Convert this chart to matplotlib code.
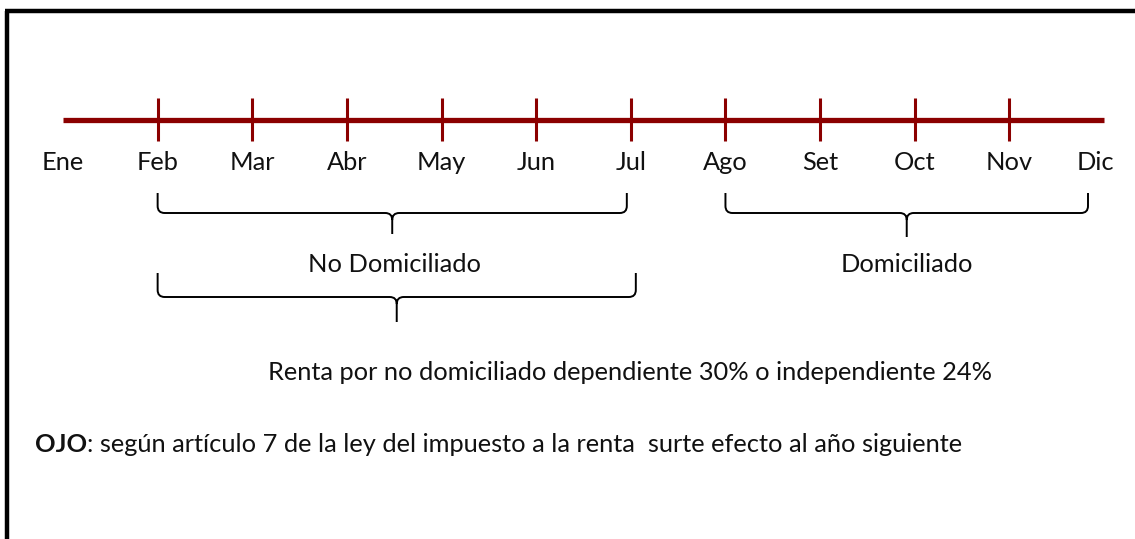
import matplotlib.pyplot as plt
from matplotlib.path import Path
from matplotlib.patches import PathPatch

months = ["Ene", "Feb", "Mar", "Abr", "May", "Jun", "Jul",
          "Ago", "Set", "Oct", "Nov", "Dic"]
no_dom_span = (1, 6)      # Feb .. Jul
dom_span = (7, 11)        # Ago .. Dic
renta_span = (1, 6)       # Feb .. Jul (lower brace)
label_no_dom = "No Domiciliado"
label_dom = "Domiciliado"
label_renta = "Renta por no domiciliado dependiente 30% o independiente 24%"
note_bold = "OJO"
note_rest = ": según artículo 7 de la ley del impuesto a la renta  surte efecto al año siguiente"

plt.rcParams['font.family'] = ['Lato', 'DejaVu Sans']
FS = 18.3
TXT = '#111111'

W, H = 1135, 539
fig = plt.figure(figsize=(W / 100, H / 100), dpi=100)
ax = fig.add_axes([0, 0, 1, 1])
step = (1104 - 63) / 11          # pixels per month
ax.set_xlim(-63 / step, (W - 63) / step)
ax.set_ylim(H, 0)
ax.axis('off')

red = '#8b0000'
px = 1 / step  # one pixel in x data units
x_of = lambda p: (p - 63) / step   # pixel column -> month units

# frame (left and top edges only)
ax.plot([x_of(7)] * 2, [11, H], color='black', lw=3.2, solid_capstyle='butt')
ax.plot([x_of(5), x_of(W)], [11, 11], color='black', lw=3.2, solid_capstyle='butt')

# timeline
ax.plot([0, len(months) - 1], [120, 120], color=red, lw=3.8, solid_capstyle='butt')
for i in range(1, len(months) - 1):
    ax.plot([i, i], [98, 141], color=red, lw=2.2, solid_capstyle='butt')
for i, m in enumerate(months):
    xi = i if i < len(months) - 1 else i - 9 * px
    ax.text(xi, 163, m, ha='center', va='center', fontsize=FS, color=TXT)


def brace(x0, x1, ytop, ybot, ytip, r=7):
    rx = r * px
    xm = (x0 + x1) / 2
    verts = [(x0, ytop), (x0, ybot - r), (x0, ybot), (x0 + rx, ybot),
             (xm - rx, ybot), (xm, ybot), (xm, ybot + r), (xm, ytip),
             (xm, ybot + r), (xm, ybot), (xm + rx, ybot),
             (x1 - rx, ybot), (x1, ybot), (x1, ybot - r), (x1, ytop)]
    codes = [Path.MOVETO, Path.LINETO, Path.CURVE3, Path.CURVE3,
             Path.LINETO, Path.CURVE3, Path.CURVE3, Path.LINETO,
             Path.MOVETO, Path.CURVE3, Path.CURVE3,
             Path.LINETO, Path.CURVE3, Path.CURVE3, Path.LINETO]
    ax.add_patch(PathPatch(Path(verts, codes), fill=False, lw=1.4, ec='black'))


brace(no_dom_span[0], no_dom_span[1] - 4 * px, 193, 213, 234)
brace(dom_span[0], dom_span[1] - 16 * px, 193, 213, 237)
brace(renta_span[0], renta_span[1] + 5 * px, 273, 297, 322)

ax.text((no_dom_span[0] + no_dom_span[1]) / 2, 264, label_no_dom,
        ha='center', va='center', fontsize=FS, color=TXT)
ax.text((dom_span[0] + dom_span[1] - 16 * px) / 2, 264, label_dom,
        ha='center', va='center', fontsize=FS, color=TXT)
ax.text(x_of(630), 373, label_renta, ha='center', va='center',
        fontsize=FS, color=TXT)

t1 = ax.text(x_of(35), 445, note_bold, ha='left', va='center',
             fontsize=FS, fontweight='bold', color=TXT)
ax.annotate(note_rest, xy=(1, 0.5), xycoords=t1, ha='left', va='center',
            fontsize=FS, color=TXT)

fig.savefig('out.png', dpi=100)
